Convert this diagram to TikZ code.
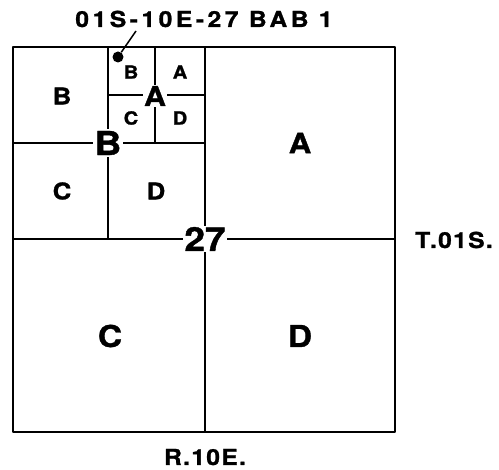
\documentclass[tikz,border=0pt]{standalone}
\usepackage{fontspec}
\setmainfont{TeX Gyre Heros}
\usepackage{tikz}
\usetikzlibrary{positioning}

\begin{document}
\begin{tikzpicture}[x=1pt, y=-1pt,
        grid/.style={line width=2pt, line join=round},
        cut/.style={fill=white, inner sep=1.5pt, font=\bfseries\fontsize{#1}{#1}\selectfont\addfontfeatures{FakeBold=1.2,FakeStretch=1.12}},
        cell/.style={inner sep=0pt, font=\bfseries\fontsize{#1}{#1}\selectfont\addfontfeatures{FakeBold=1.2,FakeStretch=1.12}},
        tag/.style={inner sep=0pt, font=\bfseries\fontsize{22}{22}\selectfont\addfontfeatures{LetterSpace=#1,FakeBold=1.2,FakeStretch=1.12}},
        tag/.default=16
    ]
        \useasboundingbox (0,0) rectangle (499,470);

        % section 27 and its quarters
        \draw[grid] (13,47) rectangle (395,432);
        \draw[grid] (13,239) -- (395,239);
        \draw[grid] (205,47) -- (205,432);
        % quarter B
        \draw[grid] (13,143) -- (205,143);
        \draw[grid] (108,47) -- (108,239);
        % quarter-quarter BA
        \draw[grid] (108,95) -- (205,95);
        \draw[grid] (155,47) -- (155,143);

        % labels at the crossings
        \node[cut=33] (sec) at (205,239) {27};
        \node[cut=33] (qB) at (108,143) {B};
        \node[cut=27] (qqA) at (155,96) {A};

        % quarters
        \node[cell=28] (A) at (300,143) {A};
        \node[cell=30] (C) at (110,336) {C};
        \node[cell=30] (D) at (300,336) {D};
        % quarter B split
        \node[cell=23] (BB) at (62,96) {B};
        \node[cell=23] (BC) at (62,191) {C};
        \node[cell=23] (BD) at (156,191) {D};
        % quarter-quarter BA split
        \node[cell=18] (BAB) at (131,72) {B};
        \node[cell=18] (BAA) at (180,72) {A};
        \node[cell=18] (BAC) at (131,118) {C};
        \node[cell=18] (BAD) at (180,118) {D};

        % township, range, well
        \node[tag, anchor=base] (well) at (204,27) {01S-10E-27 BAB 1};
        \node[tag=6, anchor=base west] (twp) at (415,248) {T.01S.};
        \node[tag=6, anchor=base] (rng) at (205,465) {R.10E.};
        \node[circle, fill, inner sep=0pt, minimum size=11pt] (dot) at (118,57) {};
        \coordinate (lead) at (136,31);
        \draw[line width=1.5pt] (lead) -- (dot);

    \end{tikzpicture}
\end{document}
